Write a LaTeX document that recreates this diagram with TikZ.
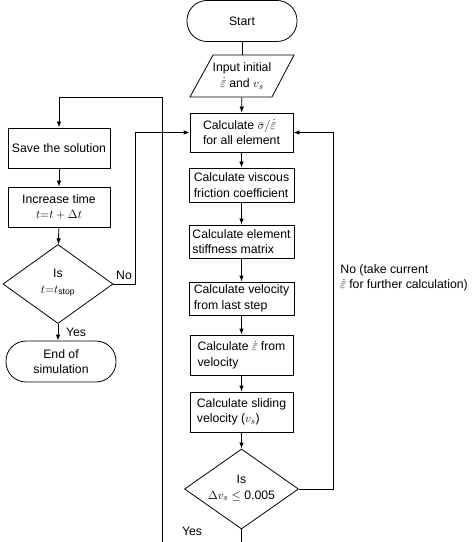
\documentclass[tikz,border=0pt]{standalone}
\usepackage{amsmath}
\usepackage{fontspec}
\setmainfont{Liberation Sans}
\usetikzlibrary{shapes.geometric,arrows.meta}
\begin{document}
\begin{tikzpicture}[x=1bp,y=-1bp,
  font=\fontsize{12.3}{15.5}\selectfont,
  line width=0.8bp,
  >={Latex[length=6bp,width=4.5bp]},
  procbox/.style={draw, rectangle, inner sep=1bp, align=left},
  termbox/.style={draw, rectangle, rounded corners=20bp, align=center, minimum width=110bp, minimum height=41bp},
  decbox/.style={draw, diamond, inner sep=0pt}]
\useasboundingbox (0,0) rectangle (474,542);

% right column
\node[termbox] (start) at (242,21) {Start};
\node[minimum width=60bp, minimum height=42bp, inner sep=0pt, align=center] (input) at (242,76) {Input initial\\$\dot{\bar\varepsilon}$ and $v_s$};
\draw (190,97) -- (213,55) -- (294,55) -- (272,97) -- cycle;
\node[procbox, minimum width=103bp, minimum height=39bp] (calc) at (241.5,132.5) {Calculate $\bar\sigma/\dot{\bar\varepsilon}$\\for all element};
\node[procbox, minimum width=105bp, minimum height=34bp] (visc) at (241.5,185) {Calculate viscous\\friction coefficient};
\node[procbox, minimum width=105bp, minimum height=33bp] (stiff) at (241.5,241.5) {Calculate element\\stiffness matrix};
\node[procbox, minimum width=105bp, minimum height=33bp] (vel) at (241.5,298.5) {Calculate velocity\\from last step};
\node[procbox, minimum width=103bp, minimum height=40bp] (epsr) at (241.5,355) {Calculate $\dot{\bar\varepsilon}$ from\\velocity};
\node[procbox, minimum width=103bp, minimum height=40bp] (slide) at (241.5,412) {Calculate sliding\\velocity ($v_s$)};
\node[decbox, minimum width=114bp, minimum height=80bp, aspect=1.425] (chk) at (241.5,489) {};
\node[align=center, inner sep=0pt] (chkt) at (241.5,488) {Is\\$\Delta v_s \le$ 0.005};

% left column
\node[procbox, align=center, minimum width=102bp, minimum height=40bp] (save) at (59,148) {Save the solution};
\node[procbox, align=center, minimum width=102bp, minimum height=40bp] (inc) at (59,207) {Increase time\\$t{=}t+\Delta t$};
\node[decbox, minimum width=110bp, minimum height=79bp, aspect=1.39] (stop) at (58,284) {};
\node[align=center, inner sep=0pt] (stopt) at (58,283) {Is\\$t{=}t_{\text{stop}}$};
\node[termbox] (endn) at (61,361.5) {End of\\simulation};

% coordinates
\coordinate (bot) at (162,542);
\coordinate (topl) at (162,97);
\coordinate (rloop) at (333,0);
\coordinate (nocol) at (135,0);

% connectors
\draw (start) -- (input);
\draw[->] (input) -- (calc);
\draw[->] (calc) -- (visc);
\draw[->] (visc) -- (stiff);
\draw[->] (stiff) -- (vel);
\draw[->] (vel) -- (epsr);
\draw[->] (epsr) -- (slide);
\draw[->] (slide) -- (chk);
\draw[->] (chk.east) -- (chk.east -| rloop) |- (calc.east);
\draw (chk.south) -- (chk.south |- bot);

\draw[->] (bot) -- (topl) -| (save.north);
\draw[->] (save) -- (inc);
\draw[->] (inc) -- (stop);
\draw[->] (stop.east) -- (stop.east -| nocol) |- (calc.west);
\draw[->] (stop.south) -- (stop.south |- endn.north);

% labels
\node (nolbl) at (124,275) {No};
\node (yes1) at (76,332) {Yes};
\node (yes2) at (192,531) {Yes};
\node[align=left, anchor=west, inner sep=0pt] (nolbl2) at (340,278) {No (take current\\$\dot{\bar\varepsilon}$ for further calculation)};
\end{tikzpicture}
\end{document}
